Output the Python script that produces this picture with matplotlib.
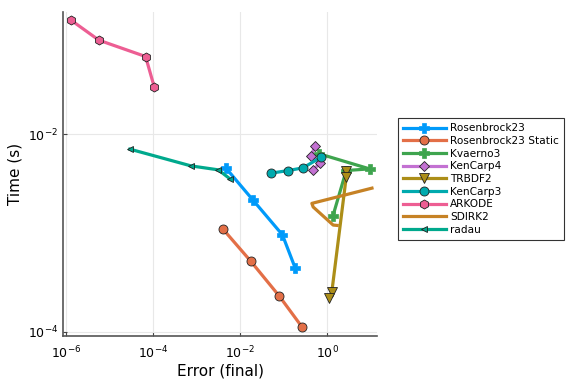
import numpy as np
import matplotlib
matplotlib.use("Agg")
import matplotlib.pyplot as plt

# work-precision data (error, time)
ros23_err = [4.61e-3, 0.0193, 0.0925, 0.181]
ros23_t = [4.56e-3, 2.16e-3, 9.55e-4, 4.42e-4]

ros23s_err = [3.94e-3, 0.0173, 0.0789, 0.262]
ros23s_t = [1.10e-3, 5.17e-4, 2.28e-4, 1.11e-4]

kvaerno3_err = [0.655, 9.24, 2.69, 1.33]
kvaerno3_t = [6.31e-3, 4.45e-3, 4.28e-3, 1.48e-3]

kencarp4_err = [0.521, 0.422, 0.679, 0.476]
kencarp4_t = [7.6e-3, 6.07e-3, 5.08e-3, 4.38e-3]

trbdf2_err = [2.69, 2.69, 1.26, 1.11]
trbdf2_t = [4.28e-3, 3.67e-3, 2.54e-4, 2.18e-4]

kencarp3_err = [0.0508, 0.127, 0.276, 0.716]
kencarp3_t = [4.03e-3, 4.28e-3, 4.56e-3, 5.85e-3]

arkode_err = [1.33e-6, 5.65e-6, 6.68e-5, 1.05e-4]
arkode_t = [0.1416, 0.0895, 0.0611, 0.0303]

sdirk2_err = [10.5, 0.438, 0.469, 1.35, 1.67]
sdirk2_t = [2.84e-3, 1.99e-3, 1.83e-3, 1.20e-3, 1.19e-3]

radau_err = [2.91e-5, 7.36e-4, 3.12e-3, 5.8e-3]
radau_t = [7.05e-3, 4.77e-3, 4.35e-3, 3.52e-3]

series = [
    ("Rosenbrock23", ros23_err, ros23_t, "#009AFA", "P"),
    ("Rosenbrock23 Static", ros23s_err, ros23s_t, "#E36F47", "o"),
    ("Kvaerno3", kvaerno3_err, kvaerno3_t, "#3EA44E", "P"),
    ("KenCarp4", kencarp4_err, kencarp4_t, "#C371D2", "D"),
    ("TRBDF2", trbdf2_err, trbdf2_t, "#AC8E18", "v"),
    ("KenCarp3", kencarp3_err, kencarp3_t, "#00AAAE", "o"),
    ("ARKODE", arkode_err, arkode_t, "#ED5E93", "h"),
    ("SDIRK2", sdirk2_err, sdirk2_t, "#C68225", None),
    ("radau", radau_err, radau_t, "#00A98D", "<"),
]

fig = plt.figure(figsize=(5.76, 3.84), dpi=100)
ax = fig.add_axes([0.109, 0.125, 0.546, 0.844])

for name, e, t, c, m in series:
    kw = dict(color=c, lw=2.3, label=name)
    if m is not None:
        ms = 6.5
        if m == "D":
            ms = 5
        if m == "<":
            ms = 5
        if m == "P":
            kw.update(marker=m, ms=ms, mec=c, mfc=c, mew=0.5)
        else:
            kw.update(marker=m, ms=ms, mec="#222222", mfc=c, mew=0.6)
    ax.plot(e, t, **kw)

ax.set_xscale("log")
ax.set_yscale("log")
ax.set_xlim(8.4e-7, 13.9)
ax.set_ylim(9.03e-5, 0.173)
ax.set_xticks([1e-6, 1e-4, 1e-2, 1e0])
ax.set_yticks([1e-4, 1e-2])
ax.minorticks_off()
ax.tick_params(direction="in", length=3, labelsize=9, color="#444444")
ax.tick_params(axis="x", pad=6)
ax.grid(True, color="#e8e8e8", lw=0.8)
ax.set_axisbelow(True)
for s in ["top", "right"]:
    ax.spines[s].set_visible(False)
for s in ["left", "bottom"]:
    ax.spines[s].set_color("#555555")
    ax.spines[s].set_linewidth(1.2)

ax.set_xlabel("Error (final)", fontsize=11, labelpad=2)
ax.set_ylabel("Time (s)", fontsize=11)

leg = fig.legend(loc="upper left", bbox_to_anchor=(0.682, 0.706),
                 fontsize=7.6, frameon=True, fancybox=False, edgecolor="black",
                 handlelength=4.0, labelspacing=0.25, borderpad=0.5,
                 handletextpad=0.4)
leg.get_frame().set_linewidth(0.8)

fig.savefig("out.png", dpi=100)
